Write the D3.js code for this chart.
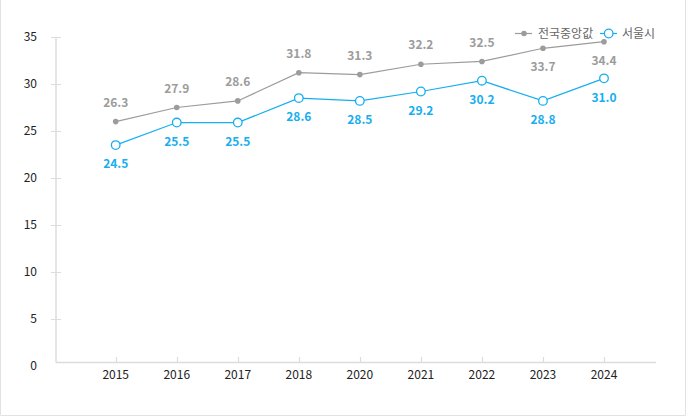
<!DOCTYPE html>
<html><head><meta charset="utf-8">
<script src="https://cdn.jsdelivr.net/npm/d3@7"></script>
<style>
html,body{margin:0;padding:0;background:#fff;}
svg{display:block;font-family:"Noto Sans CJK KR","Noto Sans",sans-serif;}
</style></head>
<body>
<svg id="chart" width="686" height="416"></svg>
<script>
const years = ["2015","2016","2017","2018","2020","2021","2022","2023","2024"];
const nationalValues = [26.0, 27.5, 28.2, 31.2, 31.0, 32.1, 32.4, 33.8, 34.5];
const nationalLabels = ["26.3","27.9","28.6","31.8","31.3","32.2","32.5","33.7","34.4"];
const seoulValues = [23.5, 25.9, 25.9, 28.5, 28.2, 29.2, 30.35, 28.2, 30.6];
const seoulLabels = ["24.5","25.5","25.5","28.6","28.5","29.2","30.2","28.8","31.0"];
const nationalLabelBelow = [false,false,false,false,false,false,false,true,true];
const yTicks = [0,5,10,15,20,25,30,35];
const seriesNames = ["전국중앙값","서울시"];

const grayC = "#9c9c9c", blueC = "#17aef0", axisC = "#dcdcdc";
const svg = d3.select("#chart");

// frame
svg.append("path").attr("d","M0.5,0 V415.5 H685.5 V0").attr("fill","none").attr("stroke","#e2e2e2");

const x = d3.scalePoint().domain(years).range([115.7, 604]);
const y = d3.scaleLinear().domain([0,35]).range([366, 37]);
const axisY = 362.5;

// y axis
svg.append("line").attr("x1",56).attr("x2",56).attr("y1",37).attr("y2",axisY).attr("stroke",axisC).attr("stroke-width",1.5);
const yg = svg.append("g");
yg.selectAll("line").data(yTicks.filter(d=>d>0)).join("line")
  .attr("x1",51).attr("x2",61).attr("y1",d=>Math.round(y(d))+0.5).attr("y2",d=>Math.round(y(d))+0.5)
  .attr("stroke",axisC);
yg.selectAll("text").data(yTicks).join("text")
  .attr("x",37).attr("y",d=>y(d)).attr("dy","0.35em").attr("text-anchor","end")
  .attr("font-size",12).attr("fill","#222").text(d=>d);

// x axis
svg.append("line").attr("x1",56).attr("x2",656).attr("y1",axisY).attr("y2",axisY).attr("stroke",axisC).attr("stroke-width",1.5);
const xg = svg.append("g");
xg.selectAll("line").data(years).join("line")
  .attr("x1",d=>Math.round(x(d))+0.5).attr("x2",d=>Math.round(x(d))+0.5).attr("y1",357).attr("y2",363)
  .attr("stroke",axisC).attr("stroke-width",1.2);
xg.selectAll("text").data(years).join("text")
  .attr("x",d=>x(d)).attr("y",375).attr("dy","0.35em").attr("text-anchor","middle")
  .attr("font-size",12).attr("fill","#222").text(d=>d);

const line = d3.line().x(d=>x(d.year)).y(d=>y(d.v));
const nat = years.map((yr,i)=>({year:yr,v:nationalValues[i],label:nationalLabels[i],below:nationalLabelBelow[i]}));
const seo = years.map((yr,i)=>({year:yr,v:seoulValues[i],label:seoulLabels[i]}));

svg.append("path").datum(nat).attr("d",line).attr("fill","none").attr("stroke",grayC).attr("stroke-width",1.2);
svg.append("path").datum(seo).attr("d",line).attr("fill","none").attr("stroke",blueC).attr("stroke-width",1.2);

svg.append("g").selectAll("circle").data(nat).join("circle")
  .attr("cx",d=>x(d.year)).attr("cy",d=>y(d.v)).attr("r",2.8).attr("fill",grayC);
svg.append("g").selectAll("circle").data(seo).join("circle")
  .attr("cx",d=>x(d.year)).attr("cy",d=>y(d.v)).attr("r",4.3).attr("fill","#fff").attr("stroke",blueC).attr("stroke-width",1.3);

svg.append("g").selectAll("text").data(nat).join("text")
  .attr("x",d=>x(d.year)).attr("y",d=>y(d.v)+(d.below?19:-19)).attr("dy","0.35em")
  .attr("text-anchor","middle").attr("font-size",12).attr("font-weight","bold").attr("fill",grayC).text(d=>d.label);
svg.append("g").selectAll("text").data(seo).join("text")
  .attr("x",d=>x(d.year)).attr("y",d=>y(d.v)+19).attr("dy","0.35em")
  .attr("text-anchor","middle").attr("font-size",12).attr("font-weight","bold").attr("fill",blueC).text(d=>d.label);

// legend
const lg = svg.append("g");
lg.append("line").attr("x1",515).attr("x2",532).attr("y1",33.5).attr("y2",33.5).attr("stroke",grayC).attr("stroke-width",1.2);
lg.append("circle").attr("cx",524).attr("cy",33.5).attr("r",2.8).attr("fill",grayC);
lg.append("text").attr("x",538).attr("y",33.5).attr("dy","0.35em").attr("font-size",12).attr("fill","#666").text(seriesNames[0]);
lg.append("line").attr("x1",600).attr("x2",617).attr("y1",33.5).attr("y2",33.5).attr("stroke",blueC).attr("stroke-width",1.2);
lg.append("circle").attr("cx",608.7).attr("cy",33.5).attr("r",4.3).attr("fill","#fff").attr("stroke",blueC).attr("stroke-width",1.3);
lg.append("text").attr("x",622).attr("y",33.5).attr("dy","0.35em").attr("font-size",12).attr("fill","#666").text(seriesNames[1]);
</script>
</body></html>
